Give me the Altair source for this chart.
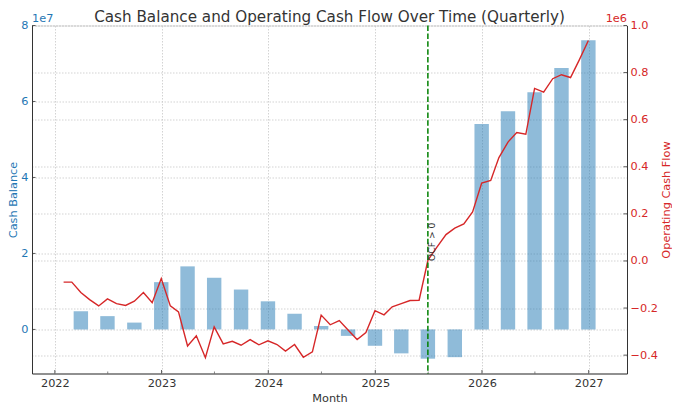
import calendar
import altair as alt
import pandas as pd

# ---------------- data ----------------
chart_title = ["Cash Balance and Operating Cash Flow Over Time (Quarterly)"]

quarter_ends = [
    "2022-03-31", "2022-06-30", "2022-09-30", "2022-12-31",
    "2023-03-31", "2023-06-30", "2023-09-30", "2023-12-31",
    "2024-03-31", "2024-06-30", "2024-09-30", "2024-12-31",
    "2025-03-31", "2025-06-30", "2025-09-30", "2025-12-31",
    "2026-03-31", "2026-06-30", "2026-09-30", "2026-12-31",
]
cash_balance = [
    4_800_000, 3_500_000, 1_800_000, 12_450_000,
    16_600_000, 13_600_000, 10_500_000, 7_400_000,
    4_100_000, 900_000, -1_700_000, -4_300_000,
    -6_300_000, -7_700_000, -7_300_000, 54_100_000,
    57_400_000, 62_400_000, 68_800_000, 76_100_000,
]

month_ends = [f"{y}-{m:02d}-{calendar.monthrange(y, m)[1]:02d}"
              for y in range(2022, 2027) for m in range(1, 13)]
operating_cash_flow = [
    -90000, -90000, -134000, -164000, -191000, -161000, -181000, -189000, -171000, -134000, -177000, -75000,
    -191000, -216000, -361000, -318000, -411000, -280000, -352000, -341000, -358000, -334000, -356000, -339000,
    -355000, -383000, -355000, -409000, -386000, -230000, -271000, -253000, -293000, -334000, -304000, -211000,
    -229000, -195000, -181000, -168000, -167000, 3000, 59000, 112000, 139000, 157000, 208000, 331000,
    342000, 439000, 505000, 545000, 538000, 733000, 717000, 774000, 791000, 779000, 854000, 936000,
]

threshold_date = "2025-06-30"
threshold_label = ["OCF > 0"]

year_ticks = ["2022-01-01", "2023-01-01", "2024-01-01", "2025-01-01", "2026-01-01", "2027-01-01"]
half_year_ticks = ["2022-07-01", "2023-07-01", "2024-07-01", "2025-07-01", "2026-07-01"]
left_ticks = [0, 20_000_000, 40_000_000, 60_000_000, 80_000_000]
right_ticks = [-400_000, -200_000, 0, 200_000, 400_000, 600_000, 800_000, 1_000_000]

left_domain = [-11_600_000, 80_000_000]
right_domain = [-478_000, 1_000_000]

# ---------------- style ----------------
FONT = "DejaVu Sans"
BLUE = "#1f77b4"
RED = "#d62728"
DARK = "#333333"
GRID = "#c8c8c8"
W, H = 595, 348
FS = 11.3

cash_df = pd.DataFrame({"date": quarter_ends, "cash": cash_balance})
ocf_df = pd.DataFrame({"date": month_ends, "ocf": operating_cash_flow})
thr_df = pd.DataFrame({"date": [threshold_date], "label": threshold_label, "zero": [0]})
xmaj_df = pd.DataFrame({"date": year_ticks})
xmin_df = pd.DataFrame({"date": half_year_ticks})
lt_df = pd.DataFrame({"v": left_ticks})
rt_df = pd.DataFrame({"v": right_ticks})

x_scale = alt.Scale(
    type="utc", nice=False,
    domain=[alt.DateTime(year=2021, month=11, date=1, utc=True),
            alt.DateTime(year=2027, month=4, date=25, utc=True)],
)
left_scale = alt.Scale(domain=left_domain, nice=False)
right_scale = alt.Scale(domain=right_domain, nice=False)

x_axis = alt.Axis(
    orient="bottom",
    tickCount=alt.TimeIntervalStep(interval="year", step=1),
    format="%Y",
    ticks=False, tickSize=0, labelPadding=3.5,
    domain=True, domainColor=DARK, domainWidth=1,
    grid=True, gridDash=[1.5, 1.5], gridColor=GRID, gridWidth=0.8,
    labelFont=FONT, labelFontSize=FS, labelColor=DARK,
    labelFlush=False, labelOverlap=False,
    title="Month", titleFont=FONT, titleFontSize=FS, titleFontWeight="normal",
    titleColor=DARK, titleBaseline="alphabetic", titleAlign="center",
    titleX=W / 2, titleY=28,
)
left_axis = alt.Axis(
    orient="left", values=left_ticks,
    labelExpr="format(datum.value / 1e7, 'd')",
    ticks=False, tickSize=0, labelPadding=4,
    domainColor=DARK, domainWidth=1,
    grid=True, gridDash=[1.5, 1.5], gridColor=GRID, gridWidth=0.8,
    labelFont=FONT, labelFontSize=FS, labelColor=BLUE,
    title="Cash Balance", titleFont=FONT, titleFontSize=FS, titleFontWeight="normal",
    titleColor=BLUE, titleAngle=270, titleBaseline="alphabetic", titleAlign="center",
    titleX=-15.5, titleY=H / 2,
)
right_axis = alt.Axis(
    orient="right", values=right_ticks,
    labelExpr="replace(format(datum.value / 1e6, '.1f'), '-', '\u2212')",
    ticks=False, tickSize=0, labelPadding=3,
    domainColor=DARK, domainWidth=1,
    grid=True, gridDash=[1.5, 1.5], gridColor=GRID, gridWidth=0.8,
    labelFont=FONT, labelFontSize=FS, labelColor=RED,
    title="Operating Cash Flow", titleFont=FONT, titleFontSize=FS, titleFontWeight="normal",
    titleColor=RED, titleAngle=270, titleBaseline="alphabetic", titleAlign="center",
    titleX=42, titleY=H / 2,
)

bars = alt.Chart(cash_df).mark_bar(size=14.4, color=BLUE, opacity=0.5).encode(
    x=alt.X("date:T", scale=x_scale, axis=x_axis),
    y=alt.Y("cash:Q", scale=left_scale, axis=left_axis),
)

# inward tick marks (matplotlib direction='in')
x_major = alt.Chart(xmaj_df).mark_rule(color=DARK, strokeWidth=0.8).encode(
    x=alt.X("date:T", scale=x_scale, axis=x_axis),
    y=alt.value(H), y2=alt.value(H - 3.5),
)
x_minor = alt.Chart(xmin_df).mark_rule(color=DARK, strokeWidth=0.6).encode(
    x=alt.X("date:T", scale=x_scale, axis=x_axis),
    y=alt.value(H), y2=alt.value(H - 2),
)
l_ticks = alt.Chart(lt_df).mark_rule(color=DARK, strokeWidth=0.8).encode(
    y=alt.Y("v:Q", scale=left_scale, axis=None),
    x=alt.value(0), x2=alt.value(3.5),
)

line = alt.Chart(ocf_df).mark_line(color=RED, strokeWidth=1.4).encode(
    x=alt.X("date:T", scale=x_scale, axis=x_axis),
    y=alt.Y("ocf:Q", scale=right_scale, axis=right_axis),
)
r_ticks = alt.Chart(rt_df).mark_rule(color=DARK, strokeWidth=0.8).encode(
    y=alt.Y("v:Q", scale=right_scale, axis=None),
    x=alt.value(W - 3.5), x2=alt.value(W),
)

thr_rule = alt.Chart(thr_df).mark_rule(color="#008000", strokeWidth=1.5, strokeDash=[5.5, 2.4]).encode(
    x=alt.X("date:T", scale=x_scale, axis=x_axis),
)
thr_text = alt.Chart(thr_df).mark_text(
    angle=270, align="left", baseline="top", font=FONT, fontSize=9.2, color=DARK
).encode(
    x=alt.X("date:T", scale=x_scale, axis=x_axis),
    y=alt.Y("zero:Q", scale=right_scale, axis=None),
    text="label:N",
)

off_l = alt.Chart(pd.DataFrame({"t": ["1e7"]})).mark_text(
    align="left", baseline="alphabetic", font=FONT, fontSize=FS, color=BLUE
).encode(text="t:N", x=alt.value(0), y=alt.value(-3.5))
off_r = alt.Chart(pd.DataFrame({"t": ["1e6"]})).mark_text(
    align="right", baseline="alphabetic", font=FONT, fontSize=FS, color=RED
).encode(text="t:N", x=alt.value(W), y=alt.value(-3.5))

title_mark = alt.Chart(pd.DataFrame({"t": chart_title})).mark_text(
    align="center", baseline="alphabetic", font=FONT, fontSize=15.2, color=DARK
).encode(text="t:N", x=alt.value(W / 2), y=alt.value(-3.2))

chart = alt.layer(
    bars, x_major, x_minor, l_ticks, line, r_ticks, thr_rule, thr_text, off_l, off_r, title_mark
).resolve_scale(y="independent").properties(
    width=W, height=H,
    autosize=alt.AutoSizeParams(type="none"),
    padding={"left": 24, "top": 17.5, "right": 45, "bottom": 30},
).configure_view(stroke=None).configure(background="white")

chart.save("out.html", embed_options={"renderer": "svg", "actions": False})
